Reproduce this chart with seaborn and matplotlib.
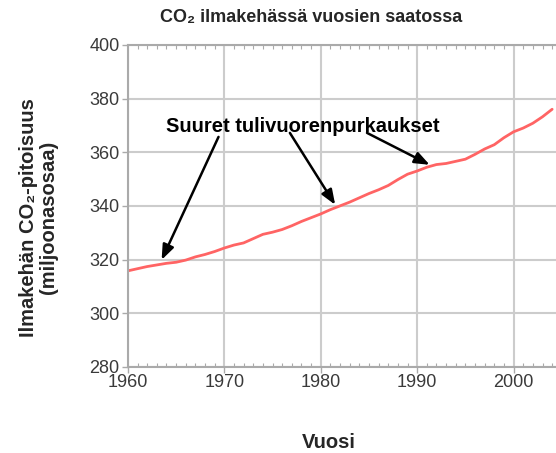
import numpy as np
import pandas as pd
import matplotlib
matplotlib.use('Agg')
import matplotlib.pyplot as plt
from matplotlib.ticker import MultipleLocator
import seaborn as sns

# Data (luettu kuvasta)
vuodet = list(range(1960, 2005))
co2 = [315.8, 316.6, 317.4, 318.0, 318.6, 319.0, 319.8, 321.0, 321.9, 323.0,
       324.3, 325.4, 326.2, 327.8, 329.4, 330.2, 331.2, 332.6, 334.2, 335.6,
       337.0, 338.6, 340.0, 341.4, 343.0, 344.6, 346.0, 347.6, 349.8, 351.8,
       353.0, 354.4, 355.4, 355.8, 356.6, 357.4, 359.2, 361.2, 362.8, 365.4,
       367.6, 369.0, 370.8, 373.2, 376.0]
x_ticks = [1960, 1970, 1980, 1990, 2000]
y_ticks = [280, 300, 320, 340, 360, 380, 400]

# Tulivuorenpurkaukset: (nuolen kärki vuosi, arvo)
purkaukset = [(1963.5, 319.9), (1981.5, 340.4), (1991.3, 355.3)]
nuolen_alku = [(1969.4, 365.7), (1976.8, 367.2), (1984.8, 367.2)]

df = pd.DataFrame({'Vuosi': vuodet, 'CO2': co2})

sns.set_style('whitegrid')
plt.rcParams['font.family'] = ['Liberation Sans', 'DejaVu Sans']

fig = plt.figure(figsize=(5.56, 4.53), dpi=100)
ax = fig.add_axes([0.230, 0.190, 0.770, 0.711])

sns.lineplot(data=df, x='Vuosi', y='CO2', ax=ax, color='#ff6464', linewidth=2)

ax.set_xlim(1960, 2004.4)
ax.set_ylim(280, 400)
ax.set_xticks(x_ticks)
ax.set_yticks(y_ticks)
ax.xaxis.set_minor_locator(MultipleLocator(1))

ax.grid(True, which='major', color='#cccccc', linewidth=1.5)
ax.grid(False, which='minor')
for s in ['left', 'bottom', 'top']:
    ax.spines[s].set_visible(True)
    ax.spines[s].set_color('#aaaaaa')
    ax.spines[s].set_linewidth(1.5)
ax.spines['right'].set_visible(False)

ax.tick_params(axis='x', which='major', direction='out', length=4, width=1,
               color='#aaaaaa', labelsize=13, labelcolor='#3a3a3a', pad=1,
               bottom=True)
ax.tick_params(axis='x', which='minor', direction='in', length=3, width=0.8,
               color='#aaaaaa', bottom=True, top=True)
ax.tick_params(axis='y', which='major', direction='out', length=4, width=1,
               color='#aaaaaa', labelsize=13, labelcolor='#3a3a3a', pad=2,
               left=True)

ax.set_xlabel('Vuosi', fontsize=14.5, fontweight='bold')
ax.xaxis.set_label_coords(0.47, -0.205)
ax.set_ylabel('Ilmakehän CO₂-pitoisuus\n(miljoonasosaa)', fontsize=14.5,
              fontweight='bold', linespacing=1.1)
ax.yaxis.set_label_coords(-0.163, 0.463)

fig.text(0.56, 0.962, 'CO₂ ilmakehässä vuosien saatossa', ha='center',
         va='center', fontsize=13, fontweight='bold')

ax.text(1978.1, 369.4, 'Suuret tulivuorenpurkaukset', ha='center',
        va='center', fontsize=14.5, fontweight='bold', color='black')
for (xa, ya), (xb, yb) in zip(nuolen_alku, purkaukset):
    ax.annotate('', xy=(xb, yb), xytext=(xa, ya),
                arrowprops=dict(arrowstyle='-|>,head_length=0.9,head_width=0.35',
                                color='black', lw=1.8, shrinkA=0, shrinkB=0))

fig.savefig('out.png', dpi=100)
